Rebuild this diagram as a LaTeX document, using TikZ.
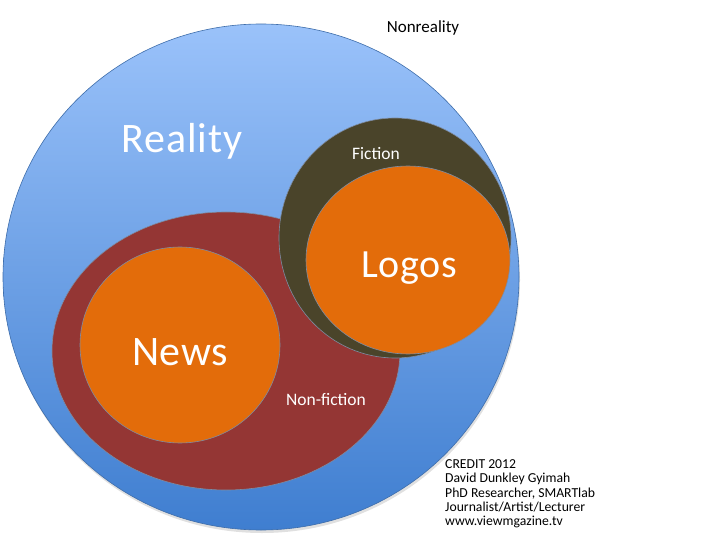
\documentclass[tikz,border=0pt]{standalone}
\usepackage{fontspec}
\setmainfont{Carlito}
\usetikzlibrary{shapes.geometric}
\definecolor{bluetop}{HTML}{9AC2FA}
\definecolor{bluebot}{HTML}{3F7ED0}
\definecolor{blueline}{HTML}{3E6DAA}
\definecolor{nfred}{HTML}{943634}
\definecolor{fico}{HTML}{4A442A}
\definecolor{orng}{HTML}{E36C0A}
\definecolor{edge}{HTML}{7E8CA2}
\begin{document}
\begin{tikzpicture}[x=1pt,y=-1pt,
  blob/.style={ellipse, inner sep=0pt, outer sep=0pt, line width=0.6pt, draw=edge},
  big/.style={text=white, font=\fontsize{40}{48}\selectfont, anchor=base},
  small/.style={text=white, font=\fontsize{17.5}{21}\selectfont, anchor=base},
  credit/.style={text=black, font=\fontsize{13.7}{14}\selectfont, anchor=base west, inner sep=0pt}]
\useasboundingbox (0,0) rectangle (720,540);
\node[blob, draw=none, fill=black!12, minimum width=516pt, minimum height=506pt] (shadow) at (262,280) {};
\node[blob, draw=blueline, top color=bluetop, bottom color=bluebot,
      minimum width=516pt, minimum height=506pt] (reality) at (261,277) {};
\node[blob, fill=nfred, minimum width=348pt, minimum height=278pt] (nonfiction) at (226,351) {};
\node[blob, fill=fico, minimum width=232pt, minimum height=240pt] (fiction) at (395,238) {};
\node[blob, fill=orng, minimum width=200pt, minimum height=196pt] (news) at (180,345) {};
\node[blob, fill=orng, minimum width=204pt, minimum height=188pt] (logos) at (408,260) {};
\node[big, font=\fontsize{42}{50}\selectfont\addfontfeature{LetterSpace=2}] (treality) at (182,153) {Reality};
\node[big, font=\fontsize{42}{50}\selectfont\addfontfeature{LetterSpace=1.5}] (tnews) at (180,365) {News};
\node[big, font=\fontsize{40}{47}\selectfont\addfontfeature{LetterSpace=1.5}] (tlogos) at (409,277) {Logos};
\node[small] (tfiction) at (376,160) {Fiction};
\node[small] (tnonfiction) at (326,405) {Non-fiction};
\node[small, text=black, font=\fontsize{17}{20}\selectfont] (tnonreality) at (423,33) {Nonreality};
\node[credit] (c1) at (445,468) {CREDIT 2012};
\node[credit] (c2) at (445,482) {David Dunkley Gyimah};
\node[credit] (c3) at (445,497) {PhD Researcher, SMARTlab};
\node[credit] (c4) at (445,511) {Journalist/Artist/Lecturer};
\node[credit] (c5) at (445,525) {www.viewmgazine.tv};
\end{tikzpicture}
\end{document}
